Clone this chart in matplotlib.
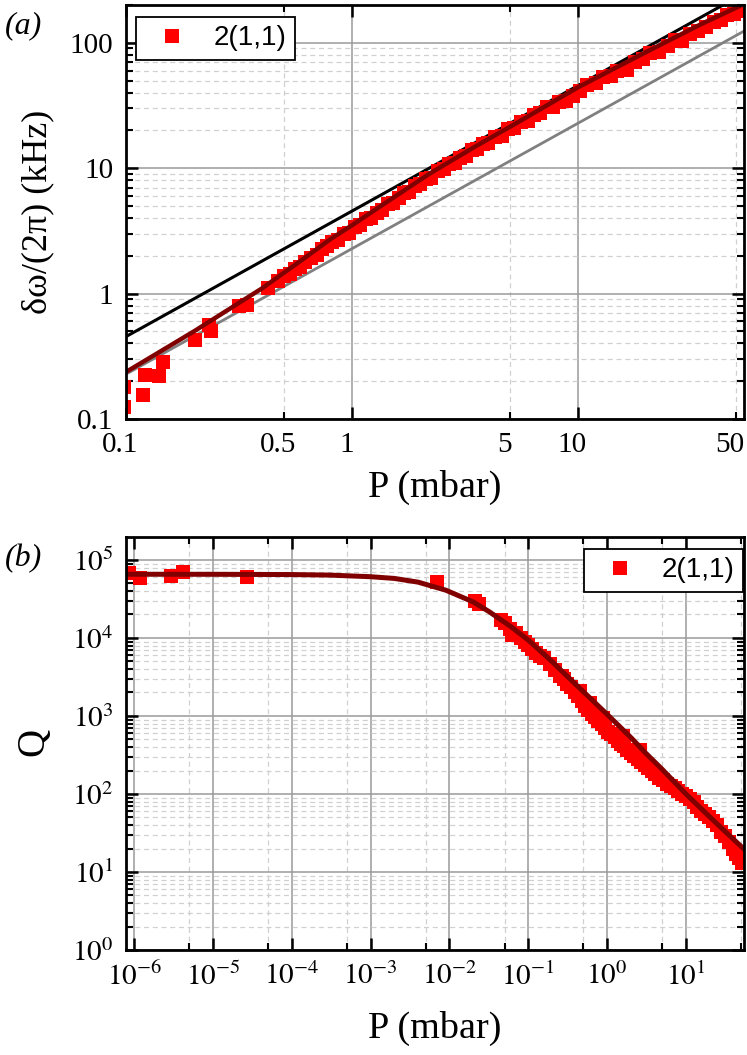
import matplotlib
matplotlib.use('Agg')
import matplotlib.pyplot as plt
import matplotlib.transforms as mtransforms
import numpy as np
from matplotlib.ticker import LogLocator, NullFormatter

plt.rcParams['font.family'] = ['Liberation Serif', 'DejaVu Serif']
plt.rcParams['mathtext.fontset'] = 'stix'

# ---- panel (a): linewidth vs pressure ----
p_a = [0.098, 0.098, 0.119, 0.121, 0.140, 0.146, 0.203, 0.232, 0.238, 0.317, 0.345, 0.424,
       0.47, 0.50, 0.53, 0.56, 0.59, 0.62, 0.66, 0.70, 0.74, 0.78, 0.82, 0.87, 0.92, 0.97,
       1.03, 1.09, 1.15, 1.22, 1.29, 1.36, 1.44, 1.52, 1.61, 1.70, 1.80, 1.90, 2.0, 2.12,
       2.25, 2.4, 2.55, 2.7, 2.85, 3.0, 3.2, 3.4, 3.6, 3.8, 4.0, 4.3, 4.6, 4.9, 5.2, 5.6,
       6.0, 6.4, 6.8, 7.3, 7.8, 8.3, 8.9, 9.5, 10.2, 11, 12, 13, 14, 15, 16.5, 18, 19.5,
       21, 23, 25, 27, 29, 31.5, 34, 37, 40, 43, 46, 49, 52]
dw_a = [0.18, 0.125, 0.156, 0.224, 0.219, 0.284, 0.427, 0.56, 0.50, 0.79, 0.81, 1.10,
        1.25, 1.39, 1.42, 1.57, 1.63, 1.79, 1.91, 2.04, 2.26, 2.38, 2.57, 2.68, 2.96, 3.05,
        3.38, 3.51, 3.92, 4.0, 4.43, 4.62, 5.15, 5.23, 5.8, 6.3, 6.5, 7.15, 7.45, 8.2,
        8.4, 9.5, 9.8, 10.8, 11.0, 12.1, 12.5, 13.9, 14.3, 15.7, 15.9, 17.7, 18.2, 20.5, 20.9, 23.3,
        23.7, 26.7, 27.5, 30.9, 31.0, 34.0, 34.5, 37.7, 41.3, 45.8, 48.2, 53.6, 54.4, 60.0, 60.6, 70.8, 73.8,
        83.5, 83.8, 94.7, 105, 104, 117, 123, 133, 147, 151, 167, 170, 179]

# fit curve and the two limiting lines
fit_p_a = [0.1, 0.2, 0.4, 0.6, 0.8, 1.0, 1.5, 2.2, 3.5, 5.5, 10, 20, 35, 55]
fit_v_a = [0.237, 0.5, 1.1, 1.85, 2.7, 3.5, 5.7, 9.0, 14.8, 23.5, 44, 84, 140, 205]
blk_p = [0.1, 55]
blk_v = [0.454, 250]
gry_p = [0.1, 55]
gry_v = [0.228, 125]

# ---- panel (b): quality factor vs pressure ----
p_b = [8.5e-7, 1.2e-6, 2.9e-6, 4.2e-6, 2.7e-5, 6.9e-3, 0.021, 0.024, 0.045, 0.05, 0.058,
       0.063, 0.07, 0.08, 0.09, 0.1, 0.11, 0.125, 0.14, 0.16, 0.19, 0.22, 0.25, 0.27, 0.28,
       0.31, 0.35, 0.39, 0.43, 0.45, 0.48, 0.53, 0.58, 0.6, 0.64, 0.7, 0.77, 0.85, 0.9, 0.94,
       1.03, 1.13, 1.25, 1.37, 1.5, 1.6, 1.65, 1.8, 2.0, 2.2, 2.45, 2.6, 2.7, 3.0, 3.3,
       3.7, 4.1, 4.6, 5.1, 5.7, 6.4, 7.2, 8.0, 9.0, 10, 11.2, 12.5, 14, 15.5, 17.5,
       19.5, 22, 25, 28, 31, 35, 39, 43, 47, 51]
q_b = [68000, 58000, 62000, 71000, 61000, 52000, 30000, 27000, 17000, 15500, 13000,
       11000, 11500, 10000, 9000, 8200, 7200, 6500, 5800, 5500, 4600, 3900, 3300, 3300, 3000,
       2600, 2350, 2000, 1800, 2100, 1550, 1350, 1200, 1450, 1050, 960, 870, 780, 950, 700,
       630, 590, 530, 480, 440, 560, 410, 370, 340, 310, 280, 370, 260, 235, 215,
       195, 180, 160, 150, 135, 125, 118, 110, 100, 95, 85, 78, 68, 60, 55,
       50, 45, 40, 33, 29, 24, 20, 17, 15, 13]
fit_p_b = [8e-7, 1e-5, 1e-4, 3e-4, 1e-3, 2e-3, 4e-3, 9e-3, 0.02, 0.032, 0.06, 0.1, 0.2,
           0.3, 0.5, 1, 2, 3.1, 5, 10, 20, 30, 55]
fit_q_b = [65600, 65500, 65000, 64000, 61000, 58000, 52000, 41000, 29000, 21700, 14000,
           9400, 5000, 3350, 2050, 1050, 530, 333, 207, 100, 51, 34.5, 19.5]

W, H = 747, 1055
fig = plt.figure(figsize=(W / 100, H / 100), dpi=100)
ax1 = fig.add_axes([126 / W, 1 - 419 / H, 618 / W, 414 / H])
ax2 = fig.add_axes([126 / W, 1 - 950 / H, 618 / W, 413 / H])

red = '#ff0000'
dark = '#800000'

# panel (a)
ax1.plot(blk_p, blk_v, color='black', lw=2.2, zorder=2)
ax1.plot(gry_p, gry_v, color='#808080', lw=2.0, zorder=2)
ax1.plot(p_a, dw_a, 's', color=red, ms=10, mew=0, label='2(1,1)', zorder=3)
ax1.plot(fit_p_a, fit_v_a, color=dark, lw=3.2, zorder=4)
ax1.set_xscale('log')
ax1.set_yscale('log')
ax1.set_xlim(0.1, 54.5)
ax1.set_ylim(0.1, 200)
ax1.set_xticks([0.1, 1, 10], labels=['0.1', '1', '10'])
ax1.set_xticks([0.5, 5, 50], labels=['0.5', '5', '50'], minor=True)
ax1.set_yticks([0.1, 1, 10, 100], labels=['0.1', '1', '10', '100'])
ax1.yaxis.set_minor_locator(LogLocator(base=10, subs=np.arange(2, 10)))
ax1.yaxis.set_minor_formatter(NullFormatter())

# panel (b)
ax2.plot(p_b, q_b, 's', color=red, ms=10, mew=0, label='2(1,1)', zorder=3)
ax2.plot(fit_p_b, fit_q_b, color=dark, lw=3.6, zorder=4)
ax2.set_xscale('log')
ax2.set_yscale('log')
ax2.set_xlim(7.9e-7, 54.5)
ax2.set_ylim(1, 1.97e5)
xt = [1e-6, 1e-5, 1e-4, 1e-3, 1e-2, 1e-1, 1, 10]
ax2.set_xticks(xt, labels=['$10^{%d}$' % k for k in range(-6, 2)])
ax2.set_xticks([5e-6, 5e-5, 5e-4, 5e-3, 5e-2, 5e-1, 5, 50], minor=True)
ax2.xaxis.set_minor_formatter(NullFormatter())
ax2.set_yticks([10.0 ** k for k in range(6)], labels=['$10^{%d}$' % k for k in range(6)])
ax2.yaxis.set_minor_locator(LogLocator(base=10, subs=np.arange(2, 10), numticks=20))
ax2.yaxis.set_minor_formatter(NullFormatter())

for ax in (ax1, ax2):
    ax.set_axisbelow(True)
    ax.grid(which='major', color='#9a9a9a', lw=1.1, ls='-', zorder=0)
    ax.grid(which='minor', color='#d0d0d0', lw=0.9, ls=(0, (4, 3)), zorder=0)
    ax.tick_params(which='both', direction='in', top=True, right=True, labelsize=21)
    ax.tick_params(which='major', length=8.5, width=1.8, pad=9)
    ax.tick_params(which='minor', length=5, width=1.5, pad=9)
    for s in ax.spines.values():
        s.set_linewidth(2.0)
        s.set_zorder(5)

# the x tick labels of panel (a) sit a few pixels left of their ticks
shift = mtransforms.ScaledTranslation(-0.055, 0, fig.dpi_scale_trans)
for lbl in ax1.get_xticklabels(which='both'):
    lbl.set_transform(lbl.get_transform() + shift)

leg_kw = dict(frameon=True, fancybox=False, edgecolor='black', framealpha=1,
              prop={'family': 'Liberation Sans', 'size': 20}, handlelength=2.0,
              handletextpad=0.5, borderpad=0.3, borderaxespad=0, numpoints=1)
leg1 = ax1.legend(loc='upper left', bbox_to_anchor=(10 / 618, 1 - 12 / 414), **leg_kw)
leg2 = ax2.legend(loc='upper right', bbox_to_anchor=(1 - 1 / 618, 1 - 12 / 413), **leg_kw)
for lg in (leg1, leg2):
    lg.get_frame().set_linewidth(1.3)

# axis labels and panel letters
fig.text(38 / W, 1 - 212 / H, 'δω/(2π) (kHz)', rotation=90, ha='center', va='center', fontsize=26)
fig.text(34 / W, 1 - 742 / H, 'Q', rotation=90, ha='center', va='center', fontsize=28)
fig.text(435 / W, 1 - 487 / H, 'P (mbar)', ha='center', va='center', fontsize=27.5)
fig.text(435 / W, 1 - 1028 / H, 'P (mbar)', ha='center', va='center', fontsize=27.5)
fig.text(23 / W, 1 - 26 / H, '(a)', style='italic', ha='center', va='center', fontsize=23)
fig.text(24 / W, 1 - 559 / H, '(b)', style='italic', ha='center', va='center', fontsize=23)

fig.savefig('out.png', dpi=100)
